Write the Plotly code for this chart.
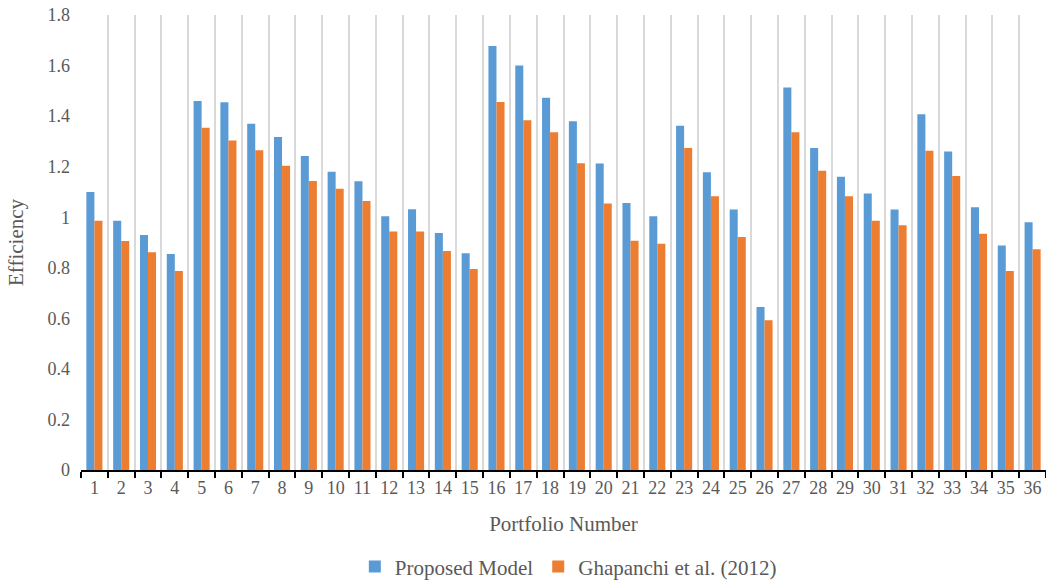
import plotly.graph_objects as go

# Portfolio efficiency scores for the two approaches
portfolios = [str(i) for i in range(1, 37)]
proposed_model = [
    1.10, 0.986, 0.93, 0.855, 1.46, 1.455, 1.37, 1.317, 1.242, 1.18,
    1.142, 1.004, 1.032, 0.938, 0.857, 1.677, 1.60, 1.473, 1.38, 1.213,
    1.056, 1.004, 1.362, 1.178, 1.031, 0.645, 1.513, 1.274, 1.16, 1.094,
    1.031, 1.407, 1.26, 1.039, 0.888, 0.98,
]
ghapanchi_2012 = [
    0.986, 0.906, 0.861, 0.787, 1.354, 1.304, 1.265, 1.204, 1.143, 1.113,
    1.064, 0.944, 0.944, 0.866, 0.795, 1.456, 1.384, 1.336, 1.214, 1.054,
    0.907, 0.895, 1.274, 1.083, 0.922, 0.592, 1.336, 1.184, 1.083, 0.986,
    0.968, 1.263, 1.163, 0.935, 0.787, 0.873,
]

BLUE = "#5B9BD5"
ORANGE = "#ED7D31"
TEXT = "#595959"
GRID = "#D9D9D9"
FONT = "Times New Roman, Liberation Serif, DejaVu Serif, serif"

fig = go.Figure()
fig.add_trace(go.Bar(
    x=portfolios, y=proposed_model, name="Proposed Model",
    marker=dict(color=BLUE, line=dict(width=0)),
))
fig.add_trace(go.Bar(
    x=portfolios, y=ghapanchi_2012, name="Ghapanchi et al. (2012)",
    marker=dict(color=ORANGE, line=dict(width=0)),
))

fig.update_layout(
    width=1046, height=583,
    margin=dict(l=81, r=0, t=15, b=113, autoexpand=False),
    paper_bgcolor="white", plot_bgcolor="white",
    font=dict(family=FONT, color=TEXT, size=18),
    barmode="group", bargap=0.4, bargroupgap=0,
    showlegend=True,
    legend=dict(
        orientation="h", x=0.505, xanchor="center", y=-0.213, yanchor="middle",
        font=dict(family=FONT, size=21, color=TEXT),
        itemwidth=30, traceorder="normal",
    ),
)

fig.update_xaxes(
    type="category", tickson="boundaries", tickangle=0,
    showgrid=True, gridcolor=GRID, gridwidth=1.5,
    showline=True, linecolor="black", linewidth=2,
    ticks="outside", ticklen=6, tickwidth=2, tickcolor="black",
    tickfont=dict(family=FONT, size=18, color=TEXT),
    title=dict(text="Portfolio Number", font=dict(family=FONT, size=21, color=TEXT), standoff=20),
)
fig.update_yaxes(
    range=[0, 1.8], dtick=0.2, tick0=0,
    showgrid=False, zeroline=False, showline=False,
    ticks="", ticklabelstandoff=10,
    tickfont=dict(family=FONT, size=18, color=TEXT),
    title=dict(text="Efficiency", font=dict(family=FONT, size=21, color=TEXT), standoff=18),
)

fig.write_html("out.html")
